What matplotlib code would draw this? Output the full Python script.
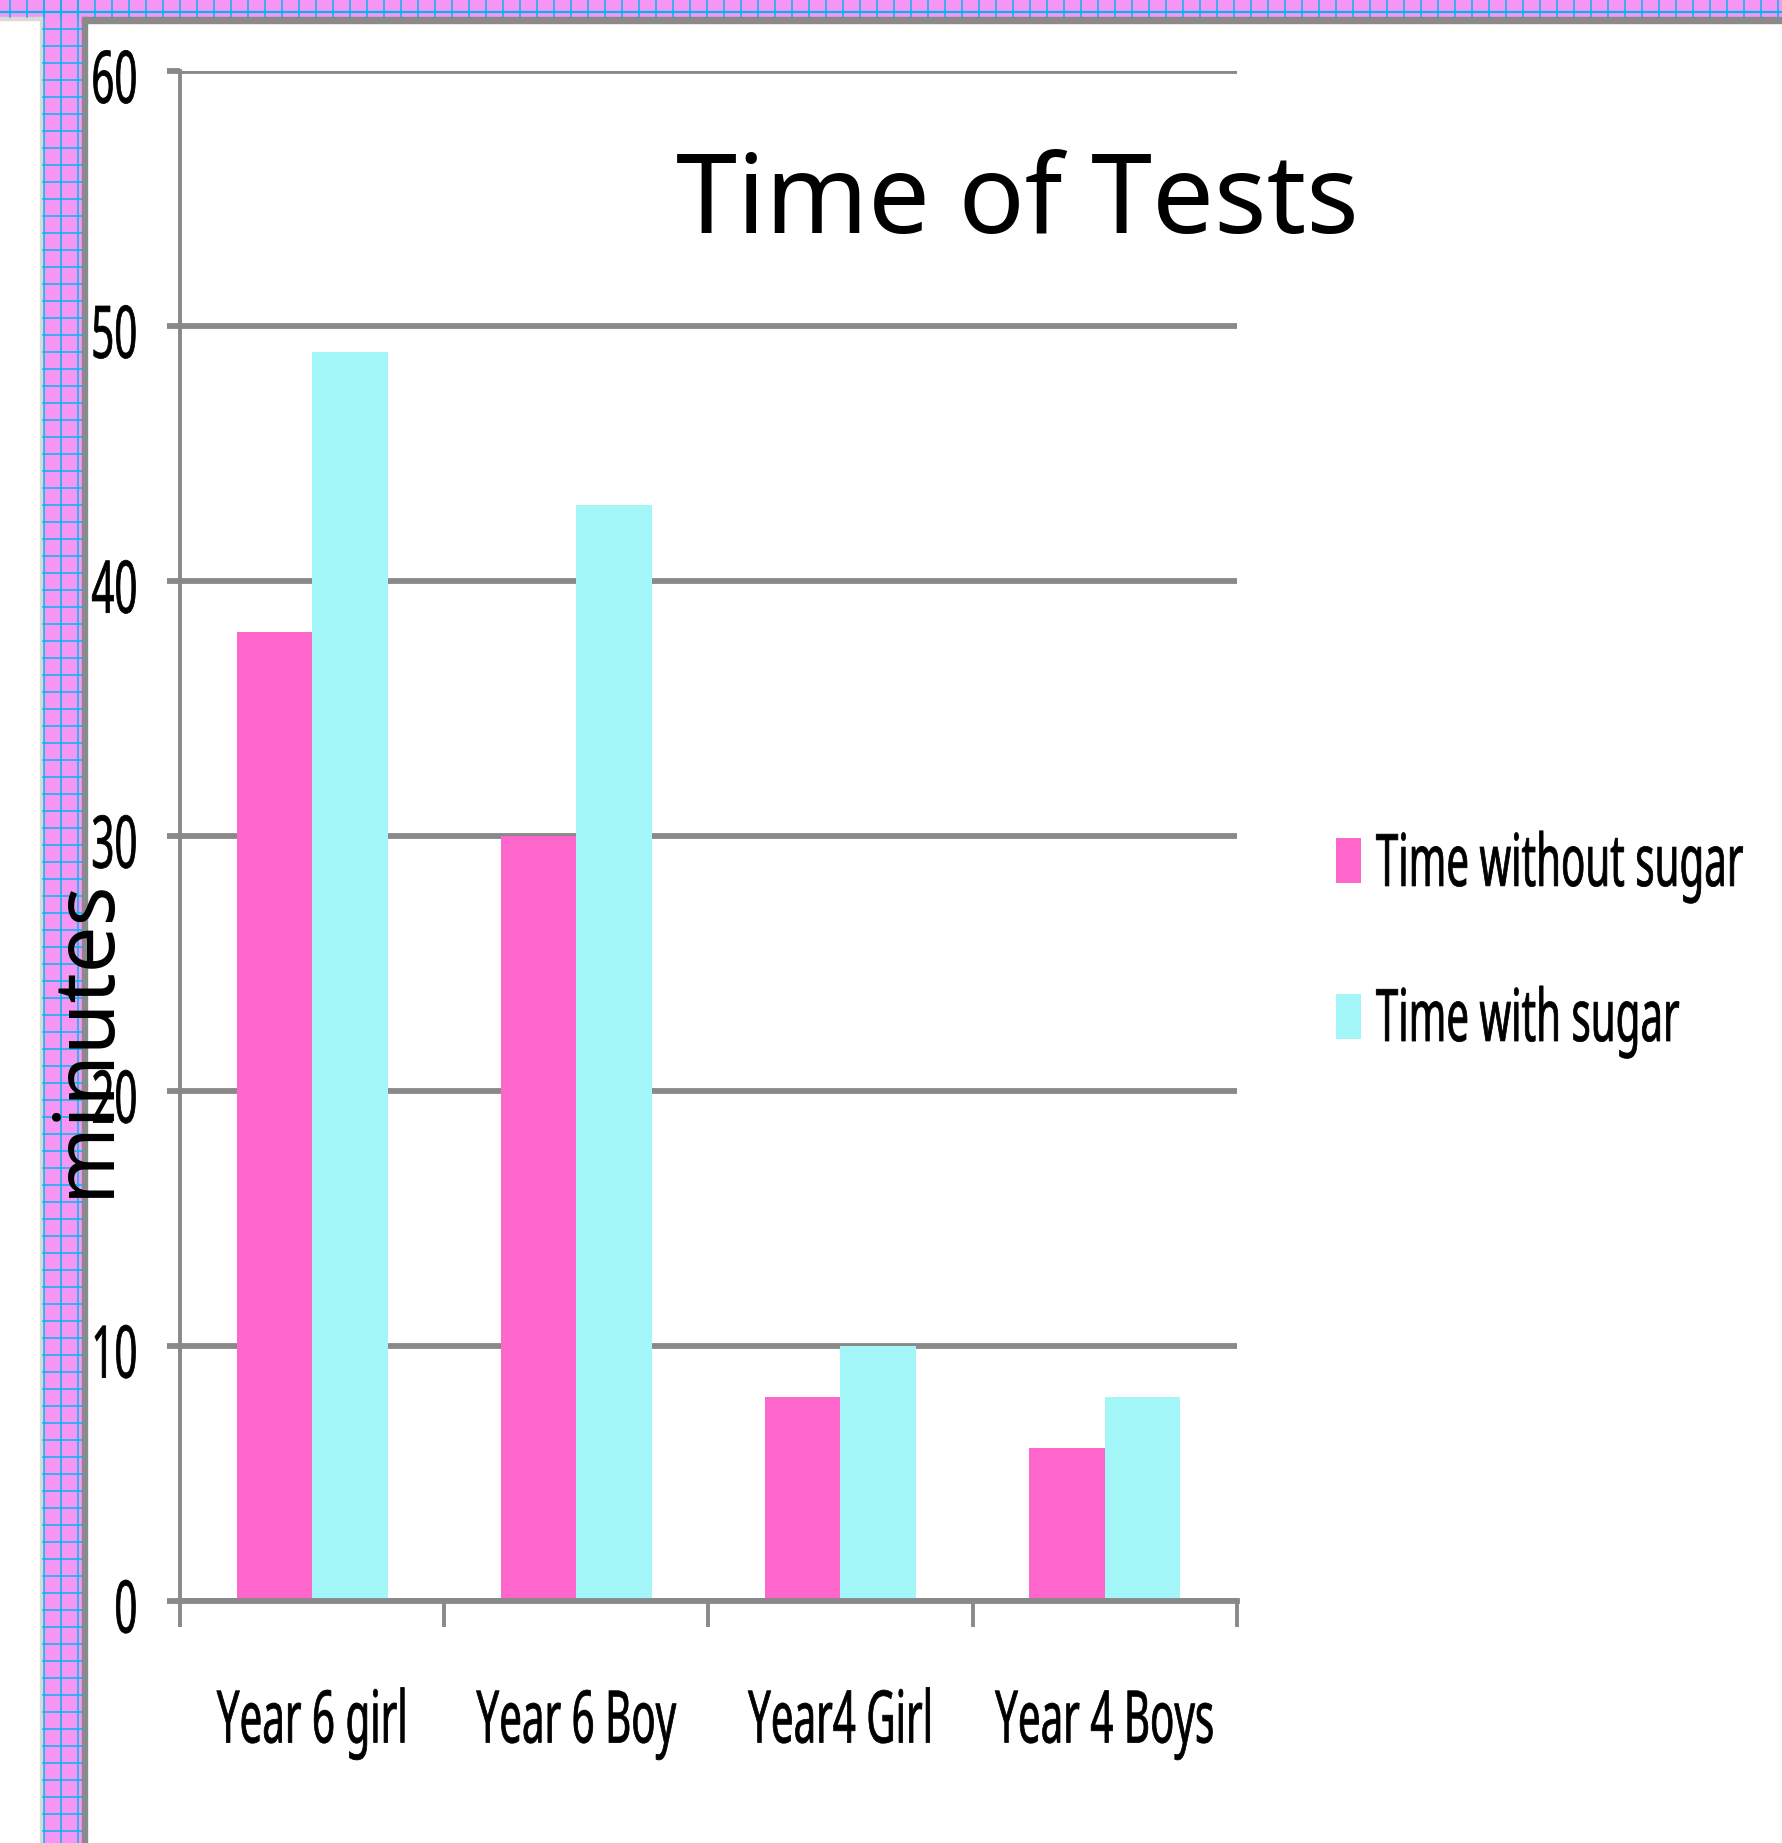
import numpy as np
import matplotlib.pyplot as plt
from matplotlib.patches import Rectangle
from matplotlib.patheffects import AbstractPathEffect
from matplotlib.transforms import Affine2D

# data
categories = ['Year 6 girl', 'Year 6 Boy', 'Year4 Girl', 'Year 4 Boys']
without_sugar = [38, 30, 8, 6]
with_sugar = [49, 43, 10, 8]
series_names = ['Time without sugar', 'Time with sugar']
yticks = [0, 10, 20, 30, 40, 50, 60]

PINK = '#FF66CC'
CYAN = '#A3F6F8'
GRAY = '#898989'

W, H = 1782, 1843
FONT = 'Noto Sans'
SMALL = 29


class Tall(AbstractPathEffect):
    # stretch glyphs vertically (text in the original is a squashed Calibri)
    def __init__(self, sy=1.8, yc=35.7, stroke=0.55, offset=(0, 0)):
        super().__init__(offset)
        self.sy = sy
        self.yc = yc
        self.stroke = stroke

    def draw_path(self, renderer, gc, tpath, affine, rgbFace=None):
        pre = Affine2D().translate(0, -self.yc).scale(1, self.sy).translate(0, self.yc)
        gc0 = renderer.new_gc()
        gc0.copy_properties(gc)
        gc0.set_linewidth(self.stroke)
        gc0.set_foreground(rgbFace)
        gc0.set_joinstyle('round')
        renderer.draw_path(gc0, tpath, pre + affine + self._offset_transform(renderer), rgbFace)
        gc0.restore()


plt.rcParams['font.family'] = [FONT, 'DejaVu Sans']

fig = plt.figure(figsize=(W / 100, H / 100), dpi=100)

# page background (pink squared paper around the chart)
bg = fig.add_axes([0, 0, 1, 1], zorder=0)
bg.set_xlim(0, W)
bg.set_ylim(H, 0)
bg.axis('off')
bg.add_patch(Rectangle((0, 0), W, H, color='white'))
bg.add_patch(Rectangle((0, 0), W, 17, color='#F596F5'))
bg.add_patch(Rectangle((43, 0), 39, H, color='#F596F5'))
for xx in np.arange(10, W, 17):
    bg.plot([xx, xx], [0, 17], color='#00B6F0', lw=1.1)
for xx in [44, 61, 78]:
    bg.plot([xx, xx], [0, H], color='#00B6F0', lw=1.1)
for yy in np.arange(12, H, 17):
    bg.plot([43, 82], [yy, yy], color='#00B6F0', lw=1.1)
bg.plot([0, W], [12, 12], color='#00B6F0', lw=1.6)
bg.add_patch(Rectangle((0, 17), 43, 3, color='#D9D9D9'))
bg.add_patch(Rectangle((40, 17), 3, H, color='#D9D9D9'))
bg.add_patch(Rectangle((82, 17), 5, H, color='#8A8A8A'))
bg.add_patch(Rectangle((82, 17), W, 6, color='#8A8A8A'))

# chart
ax = fig.add_axes([0.101, 0.1313, 0.593, 0.830], zorder=1)
ax.patch.set_alpha(0)

x = np.arange(len(categories)) + 0.5
w = 1 / 3.5
ax.bar(x - w / 2, without_sugar, w, color=PINK, label=series_names[0], zorder=2)
ax.bar(x + w / 2, with_sugar, w, color=CYAN, label=series_names[1], zorder=2)

ax.set_xlim(0, len(categories))
ax.set_ylim(0, 60)
ax.set_yticks(yticks)
ax.yaxis.grid(True, color=GRAY, lw=4.2)
ax.set_axisbelow(True)
for s in ['top', 'right']:
    ax.spines[s].set_visible(False)
ax.spines['left'].set_color(GRAY)
ax.spines['left'].set_linewidth(2.8)
ax.spines['bottom'].set_color(GRAY)
ax.spines['bottom'].set_linewidth(4.2)

ax.set_xticks(np.arange(len(categories) + 1))
ax.set_xticklabels([])
ax.set_xticks(x, minor=True)
ax.set_xticklabels(categories, minor=True, fontsize=SMALL)
ax.tick_params(axis='x', which='major', length=19, width=2.8, color=GRAY, direction='out')
ax.tick_params(axis='x', which='minor', length=0, pad=72)
ax.tick_params(axis='y', length=9.6, width=4.2, color=GRAY, pad=21, labelsize=SMALL)

for lab in ax.get_xticklabels(minor=True):
    lab.set_path_effects([Tall()])
for lab in ax.get_yticklabels():
    lab.set_path_effects([Tall(offset=(0, -3.6))])

fig.text(1017 / W, 1 - 233 / H, 'Time of Tests', ha='center', va='baseline',
         fontsize=79, zorder=3)
fig.text(86 / W, 1 - 1037 / H, 'minutes', rotation=90, ha='center', va='center',
         fontsize=60, zorder=3)

leg = ax.legend(loc='center left', bbox_to_anchor=(1336 / W, 1 - 939 / H),
                bbox_transform=fig.transFigure, frameon=False, fontsize=SMALL,
                handlelength=0.62, handleheight=1.34, handletextpad=0.37,
                labelspacing=2.71, borderpad=0, borderaxespad=0)
for t in leg.get_texts():
    t.set_path_effects([Tall()])

fig.savefig('out.png', dpi=100)
